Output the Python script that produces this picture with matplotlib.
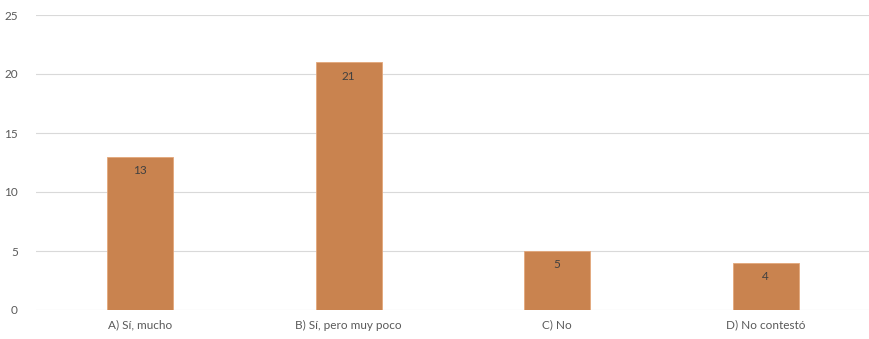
import matplotlib.pyplot as plt

categorias = ["A) Sí, mucho", "B) Sí, pero muy poco", "C) No", "D) No contestó"]
valores = [13, 21, 5, 4]
yticks = [0, 5, 10, 15, 20, 25]

plt.rcParams['font.family'] = ['Lato', 'DejaVu Sans']

fig = plt.figure(figsize=(8.7, 3.39), dpi=100)
ax = fig.add_axes([36 / 870, 1 - 310 / 339, 1 - 36 / 870, (310 - 15) / 339])

pos = range(len(categorias))
bars = ax.bar(pos, valores, width=0.316, color="#C9834F", edgecolor="#E3A77A", linewidth=0.6, zorder=3)

for b, v in zip(bars, valores):
    ax.annotate(str(v), (b.get_x() + b.get_width() / 2, v), xytext=(0, -10),
                textcoords="offset points", ha="center", va="center",
                fontsize=8.5, color="#404040", zorder=4)

ax.set_xlim(-0.5, len(categorias) - 0.5)
ax.set_ylim(0, 25)
ax.set_yticks(yticks)
ax.set_xticks(list(pos))
ax.set_xticklabels(categorias)
ax.grid(axis="y", color="#D9D9D9", linewidth=0.8, zorder=0)
for s in ax.spines.values():
    s.set_visible(False)
ax.tick_params(axis="both", length=0, labelsize=8.5, colors="#595959")
ax.tick_params(axis="y", pad=13)
ax.tick_params(axis="x", pad=7)

fig.savefig("out.png", dpi=100)
